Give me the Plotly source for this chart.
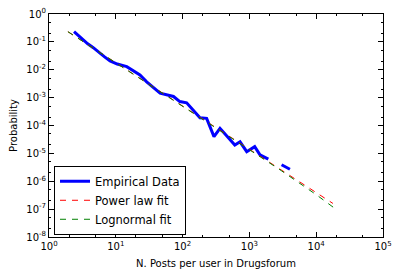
import plotly.graph_objects as go

# empirical distribution, None = empty bin
emp_x = [2.37, 3.0, 3.8, 4.6, 5.6, 6.8, 8.2, 10.5, 14.6, 23, 29, 46, 73, 91, 115, 182, 229, 295, 363, 605, 724, 912, 1200, 1440, 1920, None, 3030, 4040]
emp_y = [0.232, 0.14, 0.085, 0.062, 0.041, 0.029, 0.0207, 0.016, 0.0129, 0.0065, 0.0037, 0.00144, 0.0011, 0.00072, 0.00065, 0.00019, 0.00018, 4.0e-5, 7.9e-5, 2.0e-5, 2.6e-5, 1.15e-5, 1.74e-5, 8.9e-6, 6.2e-6, None, 3.9e-6, 2.7e-6]

pl_x = [1.92, 10, 100, 1000, 10000, 17800]
pl_y = [0.232, 0.018, 5.1e-4, 1.44e-5, 4.1e-7, 1.6e-7]

ln_x = [1.92, 10, 100, 1000, 3000, 10000, 21000]
ln_y = [0.232, 0.018, 5.0e-4, 1.35e-5, 2.4e-6, 3.3e-7, 8.9e-8]

xticks = [1, 10, 100, 1000, 10000, 100000]
xtext = ['10<sup>%d</sup>' % i for i in range(6)]
yticks = [10.0 ** -i for i in range(9)]
ytext = ['10<sup>%d</sup>' % -i for i in range(9)]
ytext[0] = '10<sup>0</sup>'

fig = go.Figure()
fig.add_trace(go.Scatter(x=emp_x, y=emp_y, mode='lines', name='Empirical Data',
                         line=dict(color='#0000ff', width=3), connectgaps=False))
fig.add_trace(go.Scatter(x=pl_x, y=pl_y, mode='lines', name='Power law fit',
                         line=dict(color='#ff0000', width=1, dash='6px,6px')))
fig.add_trace(go.Scatter(x=ln_x, y=ln_y, mode='lines', name='Lognormal fit',
                         line=dict(color='#008000', width=1, dash='6px,6px')))

axis_style = dict(type='log', showgrid=False, zeroline=False, showline=True,
                  linecolor='black', linewidth=1, mirror='allticks', automargin=False,
                  ticks='inside', ticklen=5, tickcolor='black', tickwidth=1,
                  minor=dict(ticks='inside', ticklen=2, tickcolor='black', showgrid=False),
                  tickfont=dict(size=10, color='black'))

fig.update_xaxes(range=[0, 5], tickvals=xticks, ticktext=xtext,
                 title=dict(text='N. Posts per user in Drugsforum', font=dict(size=10), standoff=8),
                 **axis_style)
fig.update_yaxes(range=[-8, 0], tickvals=yticks, ticktext=ytext,
                 title=dict(text='Probability', font=dict(size=10), standoff=6),
                 **axis_style)

fig.update_layout(
    width=399, height=278,
    margin=dict(l=49, r=16, t=14, b=41),
    paper_bgcolor='white', plot_bgcolor='white',
    font=dict(family='DejaVu Sans', color='black'),
    legend=dict(x=0.015, y=0.01, xanchor='left', yanchor='bottom',
                bordercolor='black', borderwidth=1, bgcolor='white',
                font=dict(size=11.5), itemwidth=30, tracegroupgap=0),
)

# drop the browser's default page margin so the figure sits at (0, 0)
fig.write_html("out.html", config={'displayModeBar': False},
               post_script="document.body.style.margin='0';")
